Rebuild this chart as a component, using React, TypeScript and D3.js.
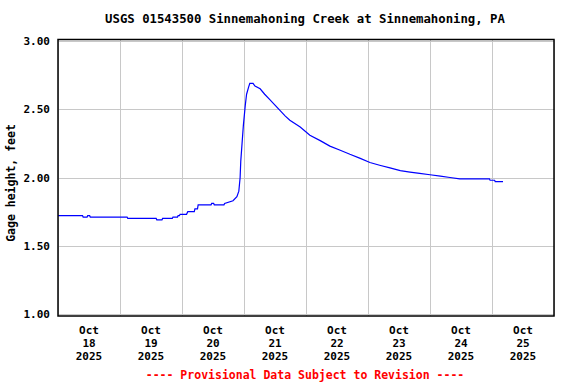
import React from "react";
import * as d3 from "d3";

const title = "USGS 01543500 Sinnemahoning Creek at Sinnemahoning, PA";
const yLabel = "Gage height, feet";
const footer = "---- Provisional Data Subject to Revision ----";

// readings, "MM-DD HH:MM" in Oct 2025 (level changes)
const times = [
  "10-18 00:00", "10-18 09:30", "10-18 09:45", "10-18 11:15", "10-18 11:30",
  "10-18 12:15", "10-18 12:30", "10-19 02:45", "10-19 03:00", "10-19 14:00",
  "10-19 14:15", "10-19 16:15", "10-19 16:30", "10-19 20:15", "10-19 20:30",
  "10-19 22:15", "10-19 22:30", "10-19 23:00", "10-19 23:15", "10-20 01:45",
  "10-20 02:15", "10-20 04:45", "10-20 05:00", "10-20 06:00", "10-20 06:15",
  "10-20 11:15", "10-20 11:30", "10-20 12:15", "10-20 12:30", "10-20 16:15",
  "10-20 16:30", "10-20 19:45", "10-20 21:15", "10-20 22:00",
  "10-20 22:30", "10-20 22:45", "10-20 23:15", "10-20 23:45", "10-21 00:30",
  "10-21 01:00", "10-21 01:45", "10-21 02:15", "10-21 03:30", "10-21 04:15",
  "10-21 06:15", "10-21 08:00", "10-21 10:00", "10-21 12:00", "10-21 14:00",
  "10-21 16:00", "10-21 17:45", "10-21 21:45", "10-22 01:30", "10-22 05:30",
  "10-22 09:15", "10-22 13:15", "10-22 17:00", "10-22 21:00", "10-23 00:45",
  "10-23 04:30", "10-23 08:30", "10-23 12:30", "10-23 16:15", "10-23 20:00",
  "10-24 00:00", "10-24 04:00", "10-24 07:45", "10-24 11:30", "10-24 15:30",
  "10-24 23:00", "10-24 23:15", "10-25 01:00", "10-25 01:15", "10-25 04:15",
];
const heights = [
  1.72, 1.72, 1.71, 1.71, 1.72,
  1.72, 1.71, 1.71, 1.70, 1.70,
  1.69, 1.69, 1.70, 1.70, 1.71,
  1.71, 1.72, 1.72, 1.73, 1.73,
  1.75, 1.75, 1.77, 1.77, 1.80,
  1.80, 1.81, 1.81, 1.80, 1.80,
  1.81, 1.83, 1.86, 1.90,
  2.00, 2.12, 2.25, 2.38, 2.53,
  2.61, 2.66, 2.69, 2.69, 2.67,
  2.65, 2.61, 2.57, 2.53, 2.49,
  2.45, 2.42, 2.37, 2.31, 2.27,
  2.23, 2.20, 2.17, 2.14, 2.11,
  2.09, 2.07, 2.05, 2.04, 2.03,
  2.02, 2.01, 2.00, 1.99, 1.99,
  1.99, 1.98, 1.98, 1.97, 1.97,
];
const yTicks = [1.0, 1.5, 2.0, 2.5, 3.0];
const dayLabels = ["18", "19", "20", "21", "22", "23", "24", "25"];

const parse = d3.utcParse("%Y-%m-%d %H:%M");
const toDate = (s: string) => parse("2025-" + s) as Date;

const font = "'DejaVu Sans Mono', 'Liberation Mono', monospace";

export default function App() {
  const W = 576, H = 384;
  const left = 58, right = 554, top = 40, bottom = 316;

  const x = d3.scaleUtc()
    .domain([toDate("10-18 00:00"), toDate("10-26 00:00")])
    .range([left, right]);
  const y = d3.scaleLinear().domain([1, 3]).range([314, 41]);

  const data = times.map((t, i) => ({ t: toDate(t), v: heights[i] }));
  const line = d3.line<{ t: Date; v: number }>()
    .x(d => x(d.t))
    .y(d => y(d.v));

  const days = x.ticks(d3.utcDay.every(1)!);

  return (
    <svg width={W} height={H} style={{ position: "absolute", left: 0, top: 0, background: "#fff" }}>
      <rect x={0} y={0} width={W} height={H} fill="#fff" />
      <text x={305} y={23} textAnchor="middle" fontFamily={font} fontWeight="bold" fontSize={12.3}>{title}</text>

      {/* grid */}
      {days.map((d, i) => (
        <line key={"v" + i} x1={Math.round(x(d)) + 0.5} x2={Math.round(x(d)) + 0.5} y1={top} y2={bottom}
          stroke="#c8c8c8" strokeWidth={1} />
      ))}
      {yTicks.map((t, i) => (
        <line key={"h" + i} x1={left} x2={right} y1={Math.round(y(t)) + 0.5} y2={Math.round(y(t)) + 0.5}
          stroke="#c8c8c8" strokeWidth={1} />
      ))}

      <path d={line(data) ?? ""} fill="none" stroke="#0000ff" strokeWidth={1.2} />

      <rect x={left} y={top - 0.5} width={right - left} height={bottom - top + 0.5}
        fill="none" stroke="#000" strokeWidth={1.5} />

      {yTicks.map((t, i) => (
        <text key={"yl" + i} x={50} y={y(t) + 4} textAnchor="end" fontFamily={font}
          fontWeight="bold" fontSize={11}>{t.toFixed(2)}</text>
      ))}
      <text transform="translate(15,183) rotate(-90)" textAnchor="middle" fontFamily={font}
        fontWeight="bold" fontSize={11.5}>{yLabel}</text>

      {dayLabels.map((d, i) => {
        const cx = x(d3.utcHour.offset(toDate("10-" + d + " 00:00"), 12));
        return (
          <text key={"xl" + i} textAnchor="middle" fontFamily={font} fontWeight="bold" fontSize={11}>
            <tspan x={cx} y={333.5}>Oct</tspan>
            <tspan x={cx} y={346.5}>{d}</tspan>
            <tspan x={cx} y={360}>2025</tspan>
          </text>
        );
      })}

      <text x={305} y={379} textAnchor="middle" fontFamily={font} fontWeight="bold" fontSize={11.5}
        fill="#ff0000">{footer}</text>
    </svg>
  );
}
